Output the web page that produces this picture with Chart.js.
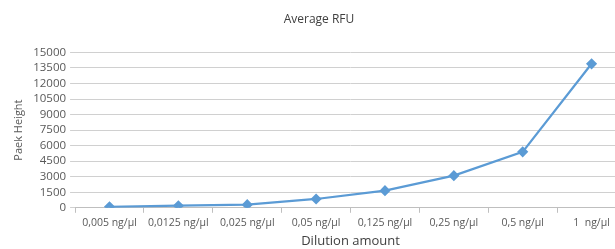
<!DOCTYPE html>
<html>
<head>
<meta charset="utf-8">
<script src="https://cdn.jsdelivr.net/npm/chart.js@4"></script>
<style>
    html, body { margin: 0; padding: 0; background: #fff; overflow: hidden; }
    #wrap { width: 640px; height: 249px; position: relative; }
</style>
</head>
<body>
<div id="wrap"><canvas id="rfuChart"></canvas></div>
<script>
const dilutions = ["0,005 ng/µl", "0,0125 ng/µl", "0,025 ng/µl", "0,05 ng/µl", "0,125 ng/µl", "0,25 ng/µl", "0,5 ng/µl", "1  ng/µl"];
const peakHeights = [100, 200, 300, 850, 1650, 3100, 5400, 13900];
const yMax = 15000;
const yStep = 1500;

const font = "'Open Sans', sans-serif";
const textColor = "#595959";

new Chart(document.getElementById("rfuChart"), {
    type: "line",
    data: {
        labels: dilutions,
        datasets: [{
            label: "Average RFU",
            data: peakHeights,
            borderColor: "#5B9BD5",
            backgroundColor: "#5B9BD5",
            borderWidth: 2.25,
            pointStyle: "rectRot",
            pointRadius: 4,
            tension: 0
        }]
    },
    options: {
        responsive: true,
        maintainAspectRatio: false,
        animation: false,
        layout: { padding: { left: 12, right: 14, top: 4, bottom: 0 } },
        plugins: {
            legend: { display: false },
            tooltip: { enabled: false },
            title: {
                display: true,
                text: "Average RFU",
                color: "#404040",
                font: { family: font, size: 12, weight: "normal" },
                padding: { top: 8, bottom: 26 }
            }
        },
        scales: {
            x: {
                offset: true,
                grid: {
                    offset: true,
                    drawOnChartArea: false,
                    color: "#bfbfbf",
                    tickLength: 5
                },
                border: { color: "#bfbfbf" },
                ticks: {
                    color: textColor,
                    font: { family: font, size: 10.5 },
                    maxRotation: 0,
                    autoSkip: false,
                    padding: 4
                },
                title: {
                    display: true,
                    text: "Dilution amount",
                    color: "#404040",
                    font: { family: font, size: 13 },
                    padding: { top: 0, bottom: 0 }
                }
            },
            y: {
                min: 0,
                max: yMax,
                grid: {
                    color: "#d0d0d0",
                    tickLength: 5
                },
                border: { display: false },
                ticks: {
                    stepSize: yStep,
                    autoSkip: false,
                    color: textColor,
                    font: { family: font, size: 11.5 },
                    padding: 4,
                    callback: function(value) {
                        return String(value);
                    }
                },
                title: {
                    display: true,
                    text: "Paek Height",
                    color: "#595959",
                    font: { family: font, size: 11 },
                    padding: { top: 0, bottom: 4 }
                }
            }
        }
    }
});
</script>
</body>
</html>
